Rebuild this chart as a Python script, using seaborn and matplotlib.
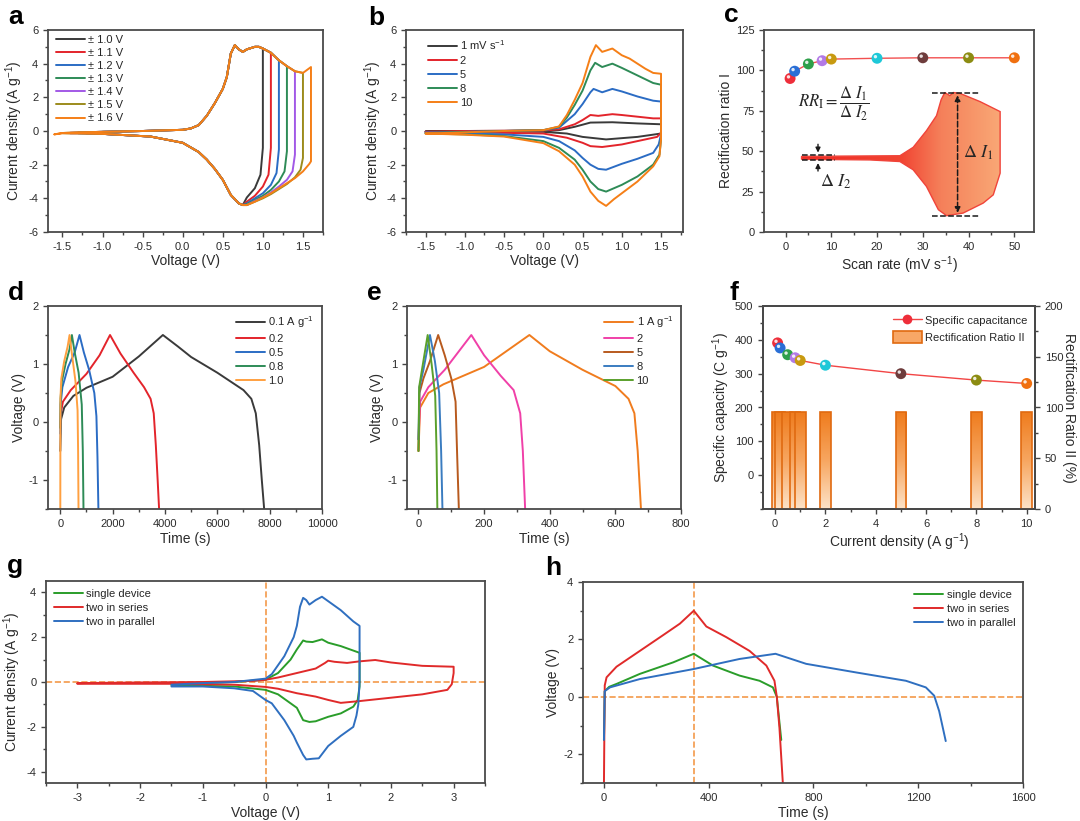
import numpy as np
import seaborn as sns
import matplotlib.pyplot as plt
from matplotlib.ticker import MultipleLocator, AutoMinorLocator, FixedLocator
from matplotlib.colors import LinearSegmentedColormap
from matplotlib.patches import Polygon, Patch
from matplotlib.lines import Line2D
from matplotlib.transforms import offset_copy

# ---------------- data ----------------
# a: CV at 10 mV/s with growing voltage window
a_vertex = [1.0, 1.1, 1.2, 1.3, 1.4, 1.5, 1.6]
a_labels = ['± 1.0 V', '± 1.1 V', '± 1.2 V', '± 1.3 V', '± 1.4 V', '± 1.5 V', '± 1.6 V']
a_fwd_v = [-1.6, -1.5, -1.4, -1.3, -1.2, -1.1, -1.0, -0.5, 0.0, 0.1, 0.2, 0.3, 0.4, 0.5, 0.55,
           0.6, 0.65, 0.7, 0.75, 0.8, 0.9, 0.95, 1.0, 1.1, 1.2, 1.3, 1.4, 1.5, 1.6]
a_fwd_i = [-0.2, -0.12, -0.1, -0.08, -0.07, -0.06, -0.05, 0.0, 0.07, 0.15, 0.35, 0.9, 1.65, 2.5, 3.2,
           4.6, 5.1, 4.85, 4.7, 4.85, 5.0, 5.0, 4.9, 4.65, 4.2, 3.85, 3.55, 3.45, 3.8]
a_rev_v = [0.75, 0.7, 0.65, 0.6, 0.5, 0.4, 0.3, 0.2, 0.0, -0.4, -1.0, -1.1, -1.2, -1.3, -1.4, -1.5, -1.6]
a_rev_i = [-4.4, -4.3, -4.05, -3.8, -2.9, -2.25, -1.7, -1.25, -0.7, -0.33, -0.17, -0.16, -0.15, -0.14,
           -0.14, -0.13, -0.2]
a_tail_v = [[1.0, 0.97, 0.9, 0.8],
            [1.1, 1.07, 1.0, 0.9, 0.8],
            [1.2, 1.17, 1.1, 1.0, 0.9, 0.8],
            [1.3, 1.27, 1.2, 1.1, 1.0, 0.9, 0.8],
            [1.4, 1.37, 1.3, 1.2, 1.1, 1.0, 0.9, 0.8],
            [1.5, 1.47, 1.4, 1.3, 1.2, 1.1, 1.0, 0.9, 0.8],
            [1.6, 1.58, 1.5, 1.4, 1.3, 1.2, 1.1, 1.0, 0.9, 0.8]]
a_tail_i = [[-1.0, -2.6, -3.4, -3.95],
            [-1.0, -2.6, -3.3, -3.85, -4.2],
            [-1.1, -2.5, -3.2, -3.7, -4.0, -4.3],
            [-1.2, -2.4, -3.0, -3.5, -3.85, -4.1, -4.35],
            [-1.4, -2.4, -2.9, -3.3, -3.65, -3.95, -4.15, -4.4],
            [-1.6, -2.3, -2.75, -3.15, -3.45, -3.75, -4.0, -4.2, -4.4],
            [-1.8, -1.95, -2.4, -2.8, -3.1, -3.4, -3.7, -3.95, -4.2, -4.4]]
a_colors = ['#3a3a3a', '#e3242b', '#2b6cc4', '#2e8b57', '#a259e6', '#9c8b1c', '#f57f17']

# b: CV at different scan rates
b_labels = ['1 mV s$^{-1}$', '2', '5', '8', '10']
b1_v = [-1.5, -1.0, 0.0, 0.2, 0.4, 0.6, 0.88, 1.2, 1.5, 1.5, 1.2, 0.8, 0.5, 0.3, 0.0, -1.0, -1.5]
b1_i = [-0.03, 0.0, 0.02, 0.05, 0.25, 0.5, 0.52, 0.45, 0.4, -0.15, -0.35, -0.5, -0.35, -0.15, -0.05, -0.02, -0.03]
b2_v = [-1.5, -1.0, 0.0, 0.2, 0.4, 0.5, 0.6, 0.7, 0.88, 1.0, 1.2, 1.4, 1.5, 1.5, 1.45, 1.2, 1.0, 0.75,
        0.6, 0.5, 0.3, 0.0, -1.0, -1.5]
b2_i = [-0.05, 0.0, 0.03, 0.1, 0.4, 0.65, 0.95, 0.9, 1.0, 0.95, 0.85, 0.75, 0.75, -0.1, -0.35, -0.6, -0.8,
        -0.95, -0.9, -0.7, -0.4, -0.15, -0.07, -0.05]
b5_v = [-1.5, -1.0, -0.5, 0.0, 0.2, 0.4, 0.5, 0.6, 0.64, 0.75, 0.88, 1.0, 1.2, 1.4, 1.5, 1.5, 1.47, 1.4,
        1.2, 1.0, 0.8, 0.7, 0.6, 0.5, 0.4, 0.2, 0.0, -0.5, -1.0, -1.5]
b5_i = [-0.1, -0.05, 0.0, 0.05, 0.2, 1.0, 1.6, 2.3, 2.5, 2.3, 2.5, 2.35, 2.05, 1.8, 1.75, -0.2, -0.8, -1.3,
        -1.65, -1.95, -2.3, -2.25, -2.0, -1.6, -1.15, -0.6, -0.35, -0.2, -0.15, -0.1]
b8_v = [-1.5, -1.0, -0.5, 0.0, 0.2, 0.3, 0.4, 0.5, 0.6, 0.66, 0.75, 0.88, 1.0, 1.2, 1.4, 1.5, 1.5, 1.48,
        1.4, 1.2, 1.0, 0.8, 0.7, 0.6, 0.5, 0.4, 0.2, 0.0, -0.5, -1.0, -1.5]
b8_i = [-0.12, -0.06, 0.0, 0.05, 0.25, 0.8, 1.55, 2.4, 3.6, 4.05, 3.8, 4.0, 3.75, 3.3, 2.85, 2.75, -0.5,
        -1.4, -2.0, -2.7, -3.2, -3.6, -3.45, -3.0, -2.3, -1.7, -1.0, -0.6, -0.3, -0.2, -0.15]
b10_v = [-1.5, -1.0, -0.5, 0.0, 0.2, 0.3, 0.4, 0.5, 0.6, 0.67, 0.75, 0.88, 1.0, 1.1, 1.2, 1.3, 1.4, 1.5,
         1.5, 1.48, 1.4, 1.2, 1.0, 0.9, 0.8, 0.7, 0.6, 0.5, 0.4, 0.2, 0.0, -0.5, -1.0, -1.5]
b10_i = [-0.15, -0.08, 0.0, 0.05, 0.27, 0.95, 1.85, 2.85, 4.4, 5.1, 4.7, 4.9, 4.5, 4.3, 4.0, 3.7, 3.45,
         3.4, -0.5, -1.5, -2.1, -3.0, -3.7, -4.05, -4.45, -4.15, -3.6, -2.7, -2.0, -1.2, -0.72, -0.33,
         -0.22, -0.15]
b_colors = ['#3a3a3a', '#e3242b', '#2b6cc4', '#2e8b57', '#f57f17']

# c: rectification ratio I vs scan rate + sketch
c_rate = [1, 2, 5, 8, 10, 20, 30, 40, 50]
c_ratio = [95, 99.5, 104, 106, 107, 107.5, 107.8, 107.8, 107.8]
ball_colors = ['#ee2e3a', '#2a6fd6', '#2ea04a', '#b27ae6', '#c89a10', '#1ec8d8', '#6e3c3c', '#8c8c12', '#f07010']
c_upper_x = [3.5, 25, 27.9, 30.8, 33, 34, 34.8, 35.9, 36.7, 38.1, 42.5, 46.9]
c_upper_y = [46.8, 47.2, 52.4, 62.7, 72, 81.8, 86.3, 84.4, 86.3, 85.8, 80.7, 74.5]
c_lower_x = [46.9, 45.4, 43.2, 38.8, 35.2, 33.4, 30.8, 27.9, 25, 18.4, 3.5]
c_lower_y = [36.4, 23, 17.9, 11.7, 10.1, 13.8, 28.2, 38.5, 43.6, 44.6, 45.0]

# d / e: GCD curves
d_labels = ['0.1 A g$^{-1}$', '0.2', '0.5', '0.8', '1.0']
d_t = [[0, 30, 150, 500, 1000, 2000, 3000, 3920, 4500, 5000, 6000, 7000, 7300, 7470, 7600, 7700, 7790],
       [0, 20, 100, 400, 1000, 1500, 1900, 2300, 2800, 3200, 3450, 3570, 3650, 3720, 3775],
       [0, 10, 80, 300, 550, 734, 900, 1100, 1300, 1380, 1420, 1456],
       [0, 10, 60, 200, 350, 443, 550, 700, 820, 860, 886],
       [0, 5, 40, 150, 280, 354, 450, 580, 660, 680, 696]]
d_v = [[-0.5, 0.05, 0.25, 0.45, 0.59, 0.78, 1.13, 1.5, 1.3, 1.12, 0.85, 0.55, 0.4, 0.15, -0.4, -1.0, -1.5],
       [-0.1, 0.15, 0.35, 0.55, 0.83, 1.15, 1.5, 1.18, 0.85, 0.6, 0.4, 0.15, -0.4, -1.0, -1.5],
       [-0.2, 0.3, 0.6, 0.95, 1.2, 1.5, 1.2, 0.9, 0.5, 0.1, -0.6, -1.5],
       [-0.1, 0.4, 0.7, 1.0, 1.25, 1.5, 1.2, 0.85, 0.3, -0.5, -1.5],
       [-1.5, 0.4, 0.75, 1.05, 1.3, 1.5, 1.15, 0.7, 0.2, -0.5, -1.5]]
d_colors = ['#3a3a3a', '#e3242b', '#2b6cc4', '#2e8b57', '#ffa040']

e_labels = ['1 A g$^{-1}$', '2', '5', '8', '10']
e_t = [[0, 5, 30, 76, 200, 338, 400, 500, 600, 640, 658, 668, 678],
       [0, 5, 30, 80, 161, 200, 250, 290, 310, 318, 325],
       [0, 3, 15, 35, 60, 80, 100, 113, 118, 123],
       [0, 3, 15, 35, 50, 63, 69, 73],
       [0, 2, 12, 28, 40, 51, 55, 57.5]]
e_v = [[-0.5, 0.25, 0.5, 0.65, 0.95, 1.5, 1.22, 0.9, 0.62, 0.4, 0.15, -0.5, -1.5],
       [-0.3, 0.35, 0.6, 0.9, 1.5, 1.15, 0.8, 0.55, 0.15, -0.5, -1.5],
       [-0.5, 0.5, 0.75, 1.05, 1.5, 1.15, 0.75, 0.35, -0.6, -1.5],
       [-0.3, 0.6, 0.9, 1.5, 1.05, 0.5, -0.5, -1.5],
       [-0.5, 0.6, 0.95, 1.5, 1.0, 0.45, -0.5, -1.5]]
e_colors = ['#f07c1e', '#f040a8', '#b85a1e', '#3a7cc0', '#5aa02c']

# f: capacity and rectification ratio II
f_current = [0.1, 0.2, 0.5, 0.8, 1, 2, 5, 8, 10]
f_capacity = [391, 376, 356, 347, 339, 325, 300, 281, 271]
f_ratio2 = [96, 96, 96, 96, 96, 96, 96, 96, 96]

# g: CV of single / series / parallel devices
g_single_v = [-1.5, -1.0, -0.5, 0.0, 0.2, 0.4, 0.5, 0.6, 0.65, 0.75, 0.9, 1.0, 1.2, 1.4, 1.5, 1.5, 1.47,
              1.4, 1.2, 1.0, 0.8, 0.7, 0.6, 0.5, 0.4, 0.2, 0.0, -0.5, -1.0, -1.5]
g_single_i = [-0.1, -0.05, 0.0, 0.1, 0.4, 1.0, 1.45, 1.85, 1.8, 1.78, 1.9, 1.75, 1.6, 1.4, 1.3, -0.2, -0.8,
              -1.1, -1.4, -1.55, -1.75, -1.78, -1.7, -1.15, -0.95, -0.55, -0.35, -0.2, -0.17, -0.15]
g_series_v = [-3.0, -2.0, -1.0, -0.2, 0.0, 0.2, 0.5, 0.8, 0.95, 1.0, 1.1, 1.3, 1.5, 1.75, 2.0, 2.5, 3.0,
              3.0, 2.97, 2.9, 2.5, 2.0, 1.5, 1.2, 1.0, 0.8, 0.5, 0.2, 0.0, -0.5, -1.5, -3.0]
g_series_i = [-0.05, -0.02, 0.0, 0.05, 0.1, 0.2, 0.4, 0.6, 0.85, 0.95, 0.9, 0.85, 0.92, 0.98, 0.87, 0.72,
              0.68, 0.4, -0.1, -0.35, -0.55, -0.7, -0.85, -0.93, -0.8, -0.65, -0.5, -0.3, -0.22, -0.12,
              -0.08, -0.08]
g_parallel_v = [-1.5, -1.0, -0.5, 0.0, 0.1, 0.3, 0.45, 0.5, 0.55, 0.6, 0.65, 0.7, 0.8, 0.9, 1.0, 1.2, 1.4,
                1.5, 1.5, 1.48, 1.45, 1.4, 1.2, 1.0, 0.85, 0.75, 0.65, 0.6, 0.5, 0.45, 0.3, 0.1, 0.0,
                -0.2, -0.5, -1.0, -1.5]
g_parallel_i = [-0.12, -0.05, 0.0, 0.15, 0.35, 1.15, 2.0, 2.5, 3.35, 3.75, 3.65, 3.45, 3.65, 3.8, 3.6, 3.2,
                2.7, 2.5, 0.0, -1.0, -1.5, -2.0, -2.4, -2.85, -3.4, -3.42, -3.45, -3.25, -2.7, -2.4, -1.7,
                -0.95, -0.8, -0.4, -0.28, -0.2, -0.2]

# h: GCD of single / series / parallel devices
h_single_t = [0, 3, 20, 48, 137, 264, 343, 416, 518, 594, 645, 660, 677]
h_single_v = [-1.5, 0.2, 0.35, 0.45, 0.8, 1.2, 1.5, 1.09, 0.74, 0.56, 0.33, 0.0, -1.5]
h_series_t = [0, 3, 10, 48, 137, 226, 290, 343, 391, 467, 556, 620, 651, 660, 670, 683]
h_series_v = [-3.0, 0.4, 0.68, 1.05, 1.6, 2.15, 2.55, 3.0, 2.45, 2.08, 1.6, 1.09, 0.56, 0.0, -1.07, -3.0]
h_parallel_t = [0, 3, 23, 137, 343, 518, 655, 772, 963, 1153, 1229, 1261, 1280, 1305]
h_parallel_v = [-1.5, 0.2, 0.33, 0.62, 0.97, 1.32, 1.5, 1.15, 0.85, 0.56, 0.33, 0.04, -0.5, -1.54]
h_peak_time = 343
dev_labels = ['single device', 'two in series', 'two in parallel']
dev_colors = ['#2a9d2a', '#e02a2a', '#2f6fc0']

# ---------------- style ----------------
sns.set_theme(style='ticks')
plt.rcParams['font.family'] = ['Liberation Sans', 'DejaVu Sans']
plt.rcParams['axes.unicode_minus'] = False
plt.rcParams['mathtext.fontset'] = 'custom'
plt.rcParams['mathtext.rm'] = 'Liberation Sans'
plt.rcParams['mathtext.it'] = 'Liberation Sans:italic'
plt.rcParams['mathtext.bf'] = 'Liberation Sans:bold'

TXT = '#2b2b2b'
DASH = '#f39a4a'
fig = plt.figure(figsize=(10.8, 8.21), dpi=100)


def px_axes(l, t, r, b):
    return fig.add_axes([l / 1080, 1 - b / 821, (r - l) / 1080, (b - t) / 821])


def style(ax, xlim, ylim, xstep, ystep, xlabel, ylabel):
    ax.set_xlim(xlim)
    ax.set_ylim(ylim)
    ax.xaxis.set_major_locator(MultipleLocator(xstep))
    ax.yaxis.set_major_locator(MultipleLocator(ystep))
    ax.xaxis.set_minor_locator(AutoMinorLocator(2))
    ax.yaxis.set_minor_locator(AutoMinorLocator(2))
    ax.tick_params(which='both', direction='out', labelsize=8, colors='#444', labelcolor=TXT, width=1)
    ax.tick_params(which='major', length=3.5)
    ax.tick_params(which='minor', length=2)
    for s in ax.spines.values():
        s.set_linewidth(1.3)
        s.set_color('#4a4a4a')
    ax.set_xlabel(xlabel, fontsize=10, color=TXT, labelpad=2)
    ax.set_ylabel(ylabel, fontsize=10, color=TXT, labelpad=2)


def curve(ax, x, y, color, label=None, lw=1.4):
    sns.lineplot(x=x, y=y, sort=False, estimator=None, color=color, lw=lw,
                 label=label, ax=ax, legend=False)


def legend(ax, loc, spacing=0.36, **kw):
    ax.legend(loc=loc, frameon=False, fontsize=8, handlelength=2.6, labelspacing=spacing,
              borderaxespad=0.3, handletextpad=0.3, **kw)


def balls(ax, x, y):
    ax.scatter(x, y, s=62, c=ball_colors, edgecolors='none', zorder=6)
    hl = offset_copy(ax.transData, fig=fig, x=-1.6, y=1.6, units='dots')
    ax.scatter(x, y, s=6, c='white', alpha=0.85, edgecolors='none', zorder=7, transform=hl)


CURRENT = 'Current density (A g$^{-1}$)'

# ---------------- a ----------------
axa = px_axes(48, 30, 323, 232)
for k, vx in enumerate(a_vertex):
    fv = [v for v in a_fwd_v if -vx - 1e-9 <= v <= vx + 1e-9]
    fi = [i for v, i in zip(a_fwd_v, a_fwd_i) if -vx - 1e-9 <= v <= vx + 1e-9]
    rv = [v for v in a_rev_v if v >= -vx - 1e-9]
    ri = [i for v, i in zip(a_rev_v, a_rev_i) if v >= -vx - 1e-9]
    curve(axa, fv + a_tail_v[k] + rv, fi + a_tail_i[k] + ri, a_colors[k], a_labels[k])
style(axa, (-1.68, 1.75), (-6, 6), 0.5, 2, 'Voltage (V)', CURRENT)
legend(axa, 'upper left', spacing=0.28, bbox_to_anchor=(0.0, 1.015))

# ---------------- b ----------------
axb = px_axes(406, 30, 683, 232)
for v, i, c, lab in zip([b1_v, b2_v, b5_v, b8_v, b10_v], [b1_i, b2_i, b5_i, b8_i, b10_i], b_colors, b_labels):
    curve(axb, v, i, c, lab)
style(axb, (-1.75, 1.78), (-6, 6), 0.5, 2, 'Voltage (V)', CURRENT)
legend(axb, 'upper left', bbox_to_anchor=(0.05, 1.0))

# ---------------- c ----------------
axc = px_axes(764, 30, 1034, 232)
cmap_c = LinearSegmentedColormap.from_list('c', [(0, '#ee2a24'), (0.5, '#f14532'), (0.7, '#f5805a'),
                                                 (1, '#f9a876')])
verts = np.column_stack([c_upper_x + c_lower_x, c_upper_y + c_lower_y])
poly = Polygon(verts, closed=True, facecolor='none', edgecolor='#f0443a', lw=1.0, zorder=3)
axc.add_patch(poly)
grad = np.linspace(0, 1, 256).reshape(1, -1)
im = axc.imshow(grad, extent=[min(c_upper_x), max(c_upper_x), 0, 100], cmap=cmap_c,
                aspect='auto', zorder=2, interpolation='bilinear')
im.set_clip_path(poly)
top_y, bot_y = max(c_upper_y), min(c_lower_y)
axc.plot([32, 42.5], [top_y, top_y], '--', color='k', lw=1.1, zorder=4)
axc.plot([32, 42.5], [bot_y, bot_y], '--', color='k', lw=1.1, zorder=4)
axc.annotate('', xy=(37.6, bot_y), xytext=(37.6, top_y),
             arrowprops=dict(arrowstyle='<|-|>', ls='--', color='k', lw=1.1, mutation_scale=8), zorder=4)
axc.plot([3.5, 10.8], [47.4, 47.4], '--', color='k', lw=1.1, zorder=4)
axc.plot([3.5, 10.8], [44.4, 44.4], '--', color='k', lw=1.1, zorder=4)
axc.annotate('', xy=(7.1, 47.4), xytext=(7.1, 56),
             arrowprops=dict(arrowstyle='-|>', color='k', lw=1, mutation_scale=7), zorder=4)
axc.annotate('', xy=(7.1, 44.4), xytext=(7.1, 36),
             arrowprops=dict(arrowstyle='-|>', color='k', lw=1, mutation_scale=7), zorder=4)
axc.text(38.7, 49, r'$\Delta\ I_1$', fontsize=13, math_fontfamily='stix', va='center')
axc.text(7.6, 31, r'$\Delta\ I_2$', fontsize=13, math_fontfamily='stix', va='center')
axc.text(2.8, 79.5, r'$RR_{\mathrm{I}} = \dfrac{\Delta\ I_1}{\Delta\ I_2}$', fontsize=12,
         math_fontfamily='stix', va='center')
curve(axc, c_rate, c_ratio, '#f25050', lw=1)
balls(axc, c_rate, c_ratio)
style(axc, (-4.7, 54.3), (0, 125), 10, 25, 'Scan rate (mV s$^{-1}$)', 'Rectification ratio I')

# ---------------- d ----------------
axd = px_axes(48, 306, 322, 509)
for t, v, c, lab in zip(d_t, d_v, d_colors, d_labels):
    curve(axd, t, v, c, lab)
style(axd, (-470, 10000), (-1.5, 2), 2000, 1, 'Time (s)', 'Voltage (V)')
legend(axd, 'upper right')

# ---------------- e ----------------
axe = px_axes(407, 306, 681, 509)
for t, v, c, lab in zip(e_t, e_v, e_colors, e_labels):
    curve(axe, t, v, c, lab)
style(axe, (-35, 800), (-1.5, 2), 200, 1, 'Time (s)', 'Voltage (V)')
legend(axe, 'upper right')

# ---------------- f ----------------
axf = px_axes(763, 306, 1035, 509)
axf2 = axf.twinx()
cmap_f = LinearSegmentedColormap.from_list('f', ['#fde3c8', '#f7a660', '#ef7b1c'])
vgrad = np.linspace(0, 1, 256).reshape(-1, 1)
bw = 0.42
for k, (x, h) in enumerate(zip(f_current, f_ratio2)):
    bar = axf2.bar(x, h, width=bw, facecolor='none', edgecolor='#e06a10', lw=1.2, zorder=2 + 2 * k)[0]
    imb = axf2.imshow(vgrad, extent=[x - bw / 2, x + bw / 2, 0, h], cmap=cmap_f, origin='lower',
                      aspect='auto', zorder=1 + 2 * k)
    imb.set_clip_path(bar)
curve(axf, f_current, f_capacity, '#f24545', lw=1)
balls(axf, f_current, f_capacity)
style(axf, (-0.48, 10.33), (-100, 500), 2, 100, CURRENT, 'Specific capacity (C g$^{-1}$)')
axf.yaxis.set_major_locator(FixedLocator([0, 100, 200, 300, 400, 500]))
axf.yaxis.set_minor_locator(MultipleLocator(50))
axf2.set_ylim(0, 200)
axf2.yaxis.set_major_locator(MultipleLocator(50))
axf2.yaxis.set_minor_locator(AutoMinorLocator(2))
axf2.tick_params(which='both', direction='out', labelsize=8, colors='#444', labelcolor=TXT, width=1)
axf2.tick_params(which='major', length=3.5)
axf2.tick_params(which='minor', length=2)
axf2.set_ylabel('Rectification Ratio II (%)', rotation=270, fontsize=10, color=TXT, labelpad=9)
axf.set_zorder(axf2.get_zorder() + 1)
axf.patch.set_visible(False)
f_handles = [Line2D([], [], color='#f24545', lw=1, marker='o', markersize=7, markerfacecolor='#ee2e3a',
                    markeredgecolor='none'),
             Patch(facecolor='#f8a766', edgecolor='#e06a10', lw=1.2)]
axf.legend(f_handles, ['Specific capacitance', 'Rectification Ratio II'], loc='upper right',
           frameon=False, fontsize=8, handlelength=2.6, handleheight=1.3, labelspacing=0.45,
           borderaxespad=0.3, handletextpad=0.3)

# ---------------- g ----------------
axg = px_axes(46, 581, 485, 783)
axg.axhline(0, color=DASH, ls='--', lw=1.2, zorder=1)
axg.axvline(0, color=DASH, ls='--', lw=1.2, zorder=1)
for v, i, c, lab in zip([g_single_v, g_series_v, g_parallel_v], [g_single_i, g_series_i, g_parallel_i],
                        dev_colors, dev_labels):
    curve(axg, v, i, c, lab)
style(axg, (-3.5, 3.5), (-4.5, 4.5), 1, 2, 'Voltage (V)', CURRENT)
legend(axg, 'upper left')

# ---------------- h ----------------
axh = px_axes(583, 582, 1023, 783)
axh.axhline(0, color=DASH, ls='--', lw=1.2, zorder=1)
axh.axvline(h_peak_time, color=DASH, ls='--', lw=1.2, zorder=1)
for t, v, c, lab in zip([h_single_t, h_series_t, h_parallel_t], [h_single_v, h_series_v, h_parallel_v],
                        dev_colors, dev_labels):
    curve(axh, t, v, c, lab)
style(axh, (-80, 1600), (-3, 4), 400, 2, 'Time (s)', 'Voltage (V)')
legend(axh, 'upper right')

# panel letters
for lab, x, y in [('a', 8, 24), ('b', 368, 25), ('c', 724, 22), ('d', 8, 300), ('e', 367, 300),
                  ('f', 729, 300), ('g', 7, 573), ('h', 545, 575)]:
    fig.text(x / 1080, 1 - y / 821, lab, fontsize=19, fontweight='bold', va='baseline', ha='left',
             color='black')

fig.savefig('out.png', dpi=100)
